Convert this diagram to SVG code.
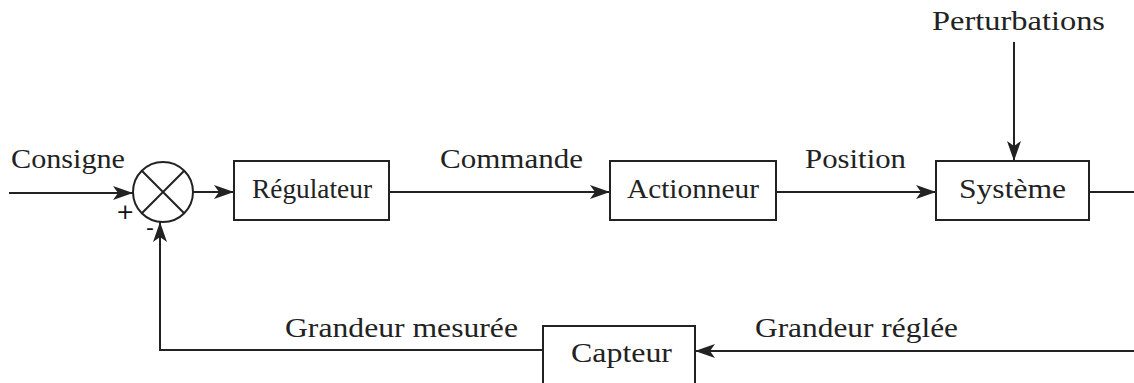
<svg xmlns="http://www.w3.org/2000/svg" width="1134" height="383" viewBox="0 0 1134 383">
<style>
.box{fill:#fff;stroke:#222;stroke-width:2}
.ln{fill:none;stroke:#222;stroke-width:2}
.t{font-family:"Liberation Serif","Times New Roman",serif;font-size:27.5px;fill:#222}
.s{font-family:"DejaVu Sans","Liberation Sans",sans-serif;font-size:22px;fill:#111}
</style>
<defs>
<marker id="ah" viewBox="0 0 20 14" refX="20" refY="7" markerWidth="20" markerHeight="14" markerUnits="userSpaceOnUse" orient="auto">
<path d="M0,0 L20,7 L0,14 L5,7 Z" fill="#222"/>
</marker>
</defs>
<rect width="1134" height="383" fill="#fff"/>
<g id="connectors">
<line class="ln" x1="9" y1="193" x2="133" y2="193" marker-end="url(#ah)"/>
<line class="ln" x1="193" y1="192" x2="234" y2="192" marker-end="url(#ah)"/>
<line class="ln" x1="389" y1="192" x2="610" y2="192" marker-end="url(#ah)"/>
<line class="ln" x1="776" y1="192" x2="936" y2="192" marker-end="url(#ah)"/>
<line class="ln" x1="1014" y1="42" x2="1014" y2="161" marker-end="url(#ah)"/>
<line class="ln" x1="1089" y1="192" x2="1134" y2="192"/>
<line class="ln" x1="1134" y1="351" x2="695" y2="351" marker-end="url(#ah)"/>
<polyline class="ln" points="543,350 160,350 160,222" marker-end="url(#ah)"/>
</g>
<g id="sum">
<circle class="box" cx="163" cy="192" r="30"/>
<line class="ln" x1="141.8" y1="170.8" x2="184.2" y2="213.2"/>
<line class="ln" x1="184.2" y1="170.8" x2="141.8" y2="213.2"/>
<text class="s" x="116" y="219">+</text>
<text class="s" x="146" y="235">-</text>
</g>
<g id="regulateur">
<rect class="box" x="234" y="161" width="155" height="59"/>
<text class="t" x="252" y="198" textLength="120" lengthAdjust="spacingAndGlyphs">Régulateur</text>
</g>
<g id="actionneur">
<rect class="box" x="610" y="161" width="166" height="59"/>
<text class="t" x="627" y="198" textLength="132" lengthAdjust="spacingAndGlyphs">Actionneur</text>
</g>
<g id="systeme">
<rect class="box" x="936" y="161" width="153" height="59"/>
<text class="t" x="959" y="198" textLength="107" lengthAdjust="spacingAndGlyphs">Système</text>
</g>
<g id="capteur">
<rect class="box" x="543" y="326" width="152" height="70"/>
<text class="t" x="571" y="362" textLength="101" lengthAdjust="spacingAndGlyphs">Capteur</text>
</g>
<g id="labels">
<text class="t" x="11" y="168" textLength="114" lengthAdjust="spacingAndGlyphs">Consigne</text>
<text class="t" x="440" y="168" textLength="143" lengthAdjust="spacingAndGlyphs">Commande</text>
<text class="t" x="805" y="168" textLength="101" lengthAdjust="spacingAndGlyphs">Position</text>
<text class="t" x="932" y="30" textLength="173" lengthAdjust="spacingAndGlyphs">Perturbations</text>
<text class="t" x="285" y="337" textLength="233" lengthAdjust="spacingAndGlyphs">Grandeur mesurée</text>
<text class="t" x="755" y="337" textLength="203" lengthAdjust="spacingAndGlyphs">Grandeur réglée</text>
</g>
</svg>
